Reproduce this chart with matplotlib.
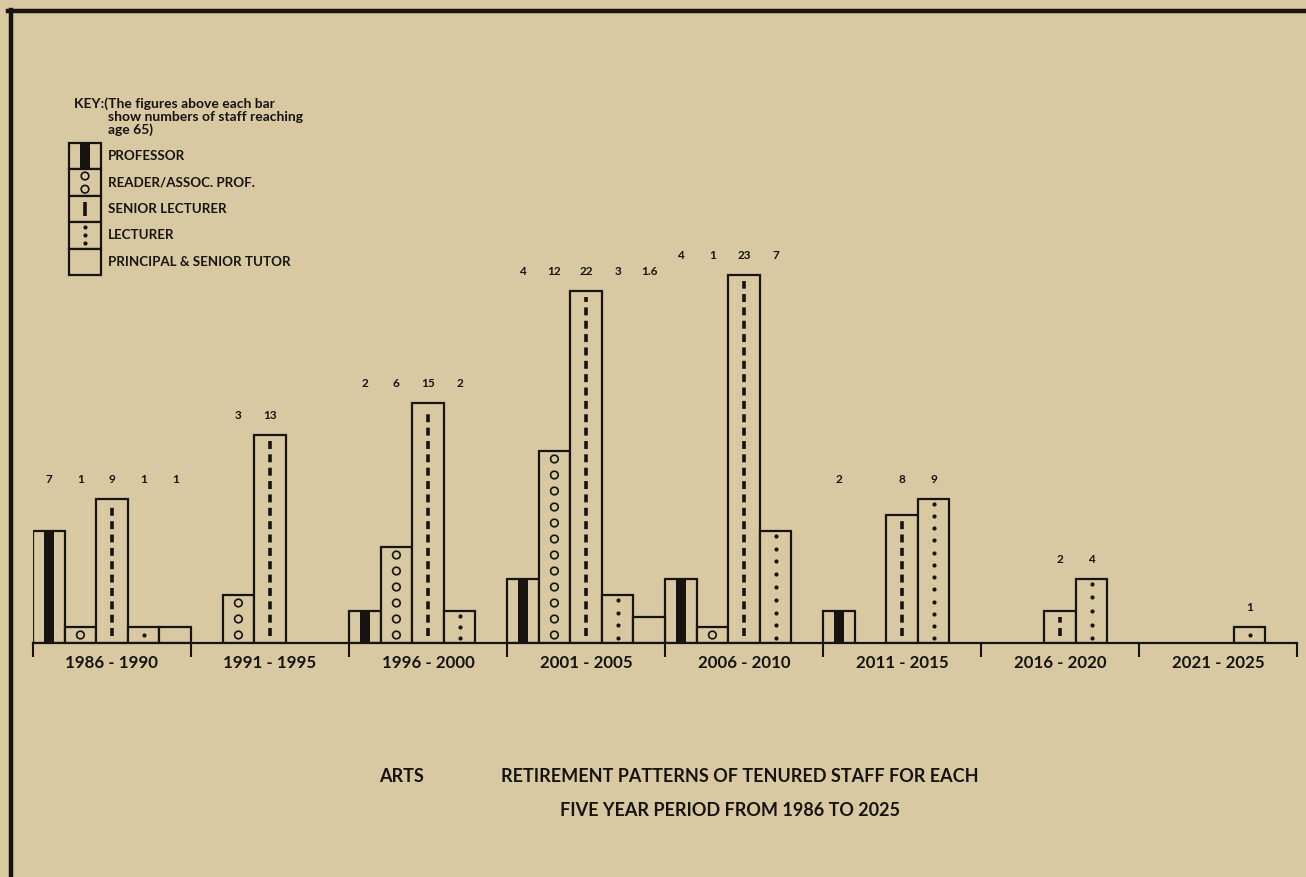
import numpy as np
import matplotlib
matplotlib.use('Agg')
from matplotlib import pyplot as plt
from matplotlib.lines import Line2D

# retirements (staff reaching 65) per five-year period
periods = ['1986 - 1990', '1991 - 1995', '1996 - 2000', '2001 - 2005',
           '2006 - 2010', '2011 - 2015', '2016 - 2020', '2021 - 2025']
categories = ['PROFESSOR', 'READER/ASSOC. PROF.', 'SENIOR LECTURER',
              'LECTURER', 'PRINCIPAL & SENIOR TUTOR']
professor = [7, 0, 2, 4, 4, 2, 0, 0]
reader = [1, 3, 6, 12, 1, 0, 0, 0]
senior_lecturer = [9, 13, 15, 22, 23, 8, 2, 0]
lecturer = [1, 0, 2, 3, 7, 9, 4, 1]
principal = [1, 0, 0, 1.6, 0, 0, 0, 0]

series = [professor, reader, senior_lecturer, lecturer, principal]
kinds = ['stripe', 'circles', 'dashes', 'dots', 'plain']

bg = '#d8c9a2'
ink = '#161310'
plt.rcParams['font.family'] = ['Lato', 'DejaVu Sans']

fig = plt.figure(figsize=(13.06, 8.77), dpi=100, facecolor=bg)

# frame of the newspaper box
fig.add_artist(Line2D([0.006, 1.0], [0.9875, 0.9875], color=ink, lw=3.2))
fig.add_artist(Line2D([0.0085, 0.0085], [0.0, 0.989], color=ink, lw=3.2))


def pattern(ax, kind, x, bottom, h, w, n_circ=1, n_dot=1, span=(0.3, 0.3),
            dash=(0.45, 0.4), dashed=True):
    if kind == 'stripe':
        ax.bar(x, h, bottom=bottom, width=w * 0.31, color=ink, lw=0, zorder=3)
    elif kind == 'circles':
        ys = bottom + np.arange(n_circ) * (h / n_circ) + h / n_circ / 2
        ax.scatter(np.full(len(ys), x), ys, s=30, facecolor='none',
                   edgecolor=ink, linewidths=1.2, zorder=4, clip_on=False)
    elif kind == 'dashes':
        ls = (0, (2.2, 1.5)) if dashed else '-'
        ax.plot([x, x], [bottom + dash[0], bottom + h - dash[1]], color=ink,
                lw=2.6, linestyle=ls, solid_capstyle='butt',
                dash_capstyle='butt', zorder=4, clip_on=False)
    elif kind == 'dots':
        if n_dot == 1:
            ys = [bottom + h / 2]
        else:
            ys = np.linspace(bottom + span[0], bottom + h - span[1], n_dot)
        ax.scatter(np.full(len(ys), x), ys, s=9, color=ink, lw=0,
                   zorder=4, clip_on=False)


# main chart
left = 33 / 1306
width = (1297 - 33) / 1306
bottom_ax = (877 - 643) / 877
height = 400 / 877
ax = fig.add_axes([left, bottom_ax, width, height])
ax.set_facecolor('none')
n_groups = len(periods)
n_cat = len(categories)
ax.set_xlim(0, n_groups * n_cat)
ax.set_ylim(0, 25)

for s, (vals, kind) in enumerate(zip(series, kinds)):
    xs = np.arange(n_groups) * n_cat + s + 0.5
    for x, v in zip(xs, vals):
        if v == 0:
            continue
        ax.bar(x, v, width=1.0, facecolor=bg, edgecolor=ink, lw=1.6, zorder=2)
        pattern(ax, kind, x, 0, v, 1.0,
                n_circ=int(round(v)), n_dot=max(1, int(round(v * 1.33))))

# numbers above the bars
for g in range(n_groups):
    top = max(vals[g] for vals in series)
    for s, vals in enumerate(series):
        if vals[g] == 0:
            continue
        ax.text(g * n_cat + s + 0.5, top + 1.2, '{:g}'.format(vals[g]),
                ha='center', va='center', fontsize=8.5, fontweight='bold',
                color=ink)

for side in ['top', 'left', 'right']:
    ax.spines[side].set_visible(False)
ax.spines['bottom'].set_linewidth(1.6)
ax.spines['bottom'].set_color(ink)
ax.set_yticks([])
ax.set_xticks(np.arange(0, n_groups * n_cat + 1, n_cat))
ax.set_xticklabels([])
ax.tick_params(axis='x', which='major', length=10, width=1.5, color=ink,
               direction='out')
ax.set_xticks(np.arange(n_groups) * n_cat + n_cat / 2, minor=True)
ax.set_xticklabels(periods, minor=True, fontsize=12.2, color=ink,
                   fontweight='bold')
ax.tick_params(axis='x', which='minor', length=0, pad=9)

# key
key = fig.add_axes([69 / 1306, (877 - 275) / 877, 32 / 1306, 132 / 877])
key.set_facecolor('none')
key.set_xlim(0, 1)
key.set_ylim(0, n_cat)
key.axis('off')
for i, (name, kind) in enumerate(zip(categories, kinds)):
    b = n_cat - 1 - i
    key.bar(0.5, 1, bottom=b, width=1.0, facecolor=bg, edgecolor=ink,
            lw=1.6, zorder=2, clip_on=False)
    pattern(key, kind, 0.5, b, 1, 1.0, n_circ=2, n_dot=3, span=(0.2, 0.2),
            dash=(0.25, 0.25), dashed=False)
    key.text(1.22, b + 0.5, name, ha='left', va='center', fontsize=9.6,
             fontweight='bold', color=ink)

fig.text(74 / 1306, (877 - 104) / 877, 'KEY:(The figures above each bar',
         ha='left', va='center', fontsize=10, fontweight='bold', color=ink)
fig.text(108 / 1306, (877 - 117) / 877, 'show numbers of staff reaching',
         ha='left', va='center', fontsize=10, fontweight='bold', color=ink)
fig.text(108 / 1306, (877 - 130) / 877, 'age 65)',
         ha='left', va='center', fontsize=10, fontweight='bold', color=ink)

# titles
fig.text(402 / 1306, (877 - 776) / 877, 'ARTS', ha='center', va='center',
         fontsize=13, fontweight='bold', color=ink)
fig.text(740 / 1306, (877 - 776) / 877,
         'RETIREMENT PATTERNS OF TENURED STAFF FOR EACH',
         ha='center', va='center', fontsize=13, fontweight='bold', color=ink)
fig.text(730 / 1306, (877 - 810) / 877,
         'FIVE YEAR PERIOD FROM 1986 TO 2025',
         ha='center', va='center', fontsize=13, fontweight='bold', color=ink)

fig.savefig('out.png', dpi=100, facecolor=bg)
